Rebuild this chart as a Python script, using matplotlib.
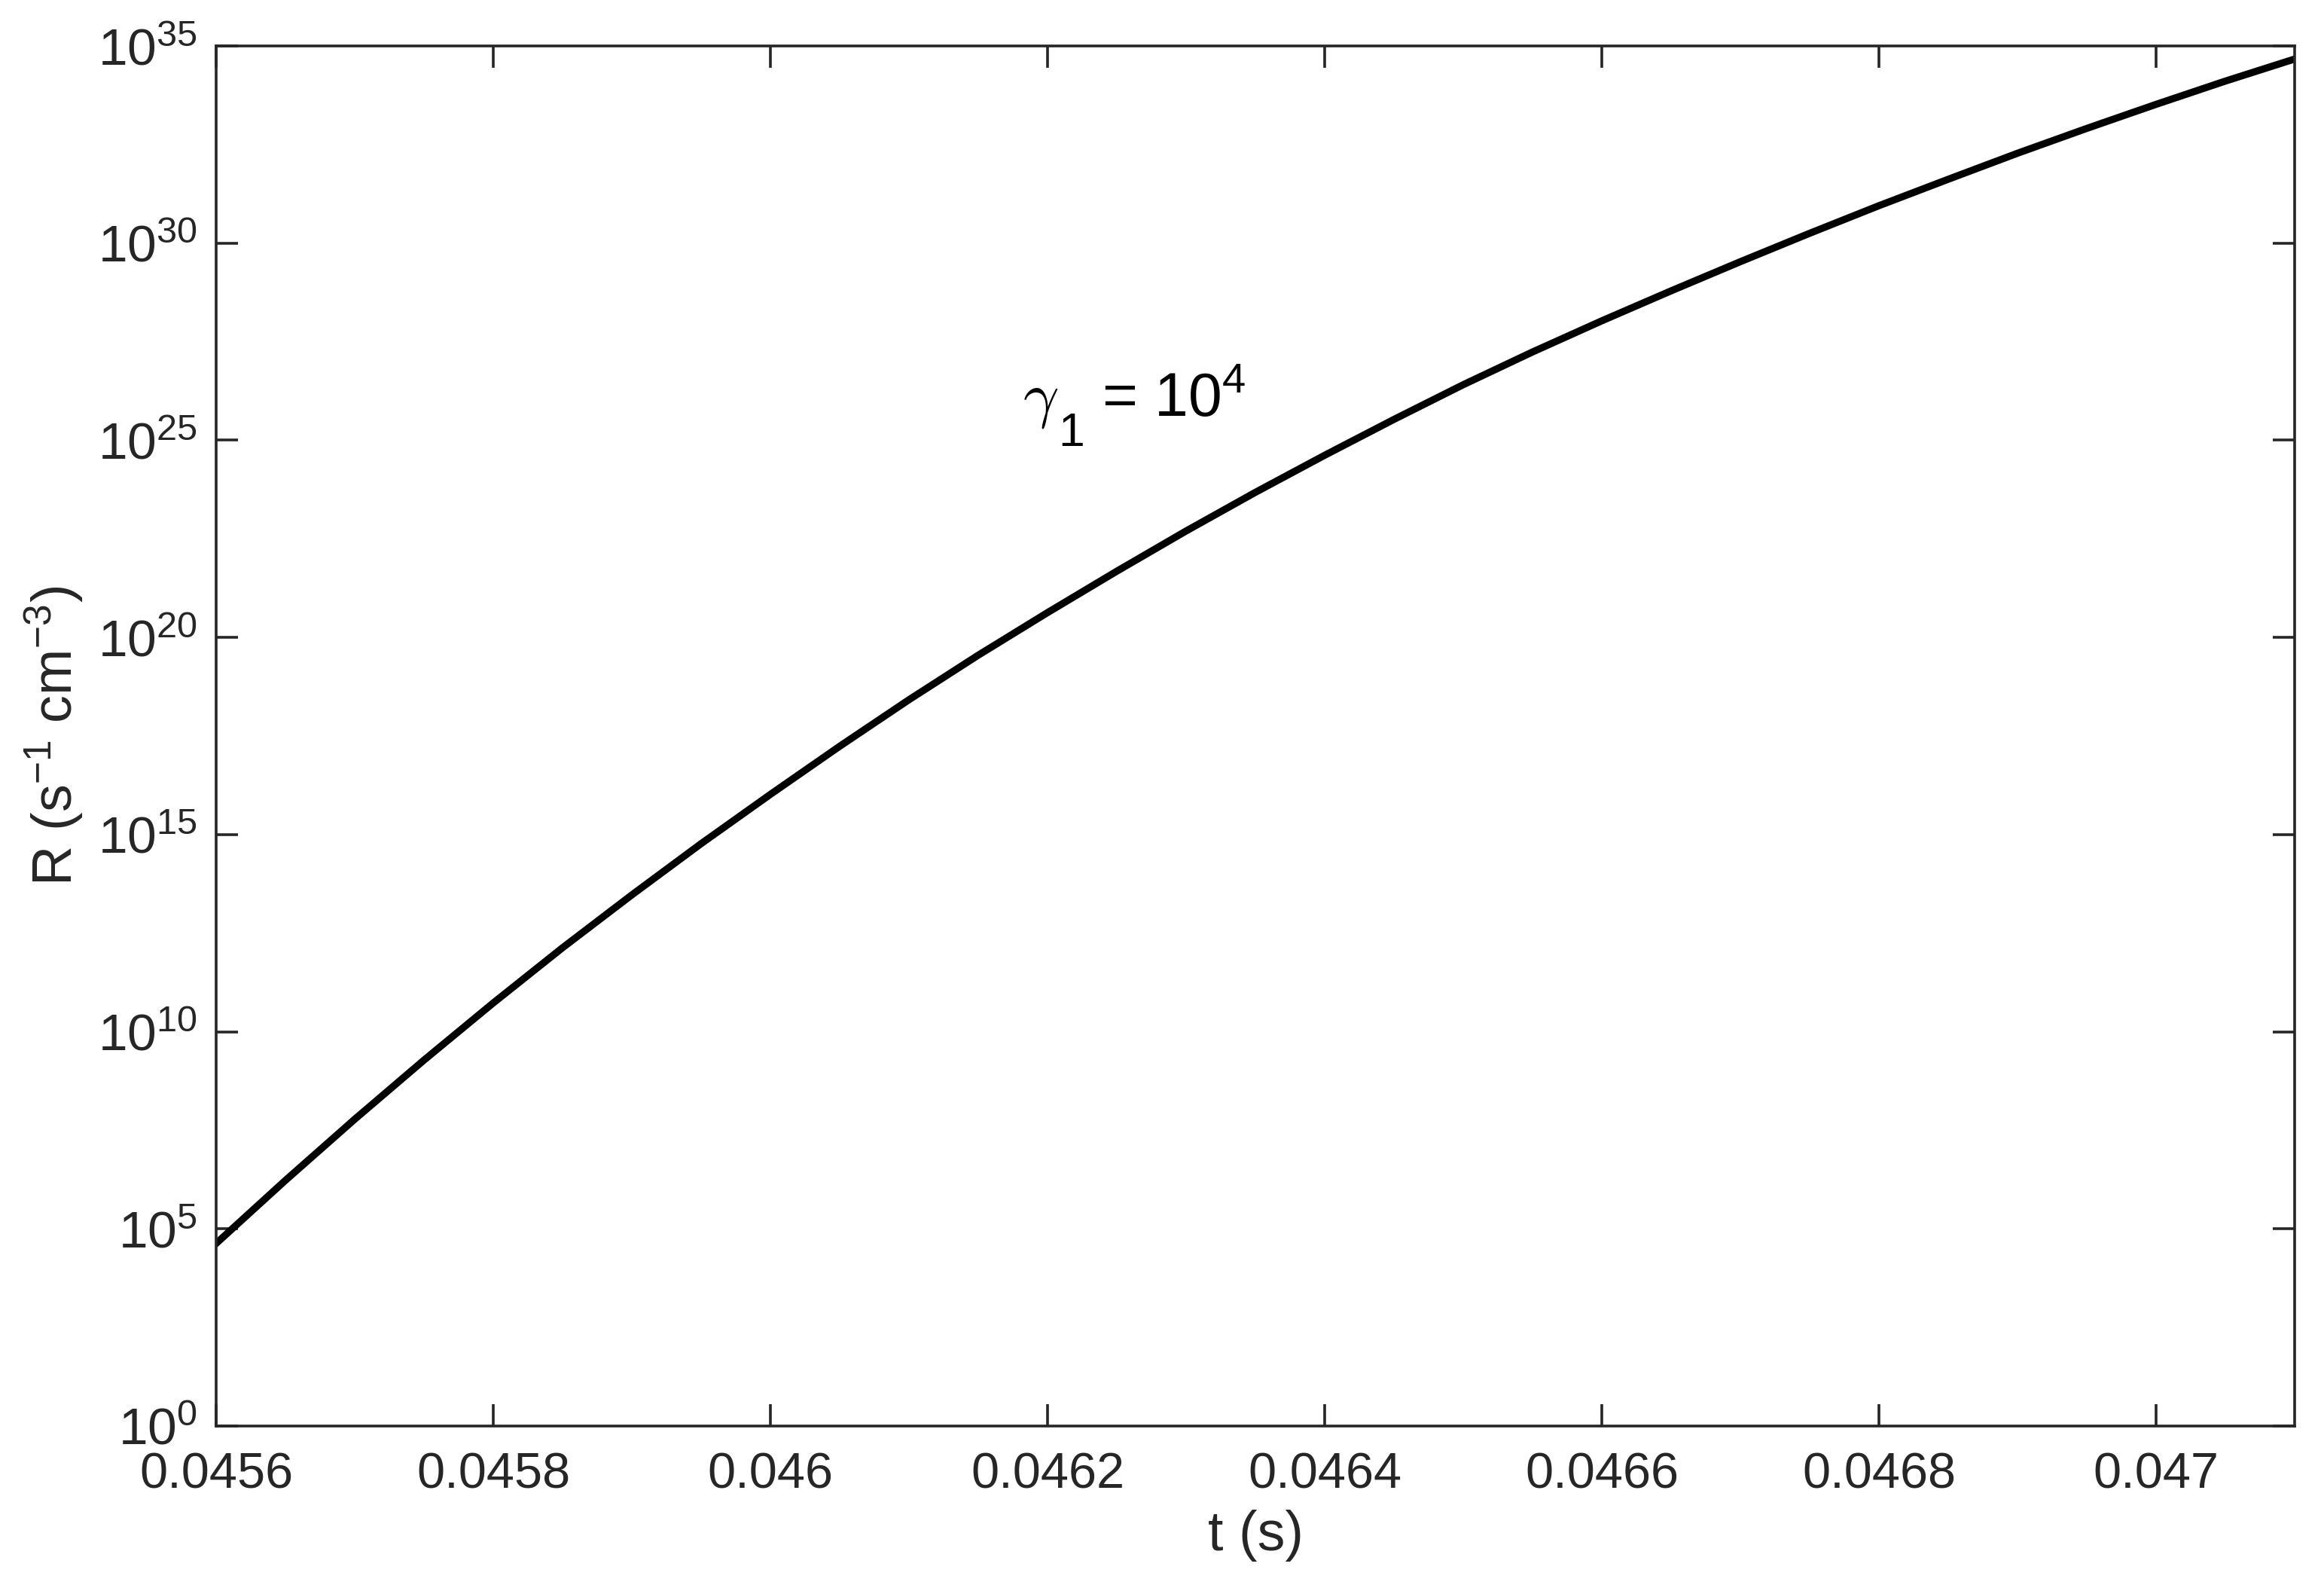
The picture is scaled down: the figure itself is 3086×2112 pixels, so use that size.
import matplotlib
matplotlib.use('Agg')
import matplotlib.pyplot as plt
import numpy as np

# datos (t en s, log10 de R)
tiempo = [0.04560, 0.04565, 0.04570, 0.04575, 0.04580, 0.04585, 0.04590,
          0.04595, 0.04600, 0.04605, 0.04610, 0.04615, 0.04620, 0.04625,
          0.04630, 0.04635, 0.04640, 0.04645, 0.04650, 0.04655, 0.04660,
          0.04665, 0.04670, 0.04675, 0.04680, 0.04685, 0.04690, 0.04695,
          0.04700, 0.04705, 0.04710]
log_R = [4.63, 6.23, 7.78, 9.28, 10.73, 12.13, 13.47,
         14.77, 16.02, 17.24, 18.42, 19.55, 20.63, 21.68,
         22.70, 23.68, 24.62, 25.53, 26.41, 27.24, 28.03,
         28.79, 29.53, 30.25, 30.95, 31.62, 32.28, 32.91,
         33.52, 34.11, 34.67]

xticks = [0.0456, 0.0458, 0.0460, 0.0462, 0.0464, 0.0466, 0.0468, 0.0470]
xtick_labels = ['0.0456', '0.0458', '0.046', '0.0462', '0.0464', '0.0466', '0.0468', '0.047']
ytick_exp = [0, 5, 10, 15, 20, 25, 30, 35]

R = 10.0 ** np.array(log_R)

plt.rcParams['font.family'] = ['Liberation Sans', 'DejaVu Sans']
plt.rcParams['mathtext.fontset'] = 'custom'
plt.rcParams['mathtext.rm'] = 'Liberation Sans'
plt.rcParams['mathtext.it'] = 'Liberation Sans:italic'
plt.rcParams['mathtext.bf'] = 'Liberation Sans:bold'

gris = '#262626'

fig = plt.figure(figsize=(15.43, 10.56), dpi=200)
ax = fig.add_axes([0.0930, 0.1037, 0.8944, 0.8674])

ax.plot(tiempo, R, color='black', linewidth=3.4)

ax.set_yscale('log')
ax.set_xlim(0.0456, 0.0471)
ax.set_ylim(1e0, 1e35)

ax.set_xticks(xticks)
ax.set_xticklabels(xtick_labels, fontsize=24)
ax.set_yticks([10.0 ** e for e in ytick_exp])
ax.set_yticklabels([r'$\mathregular{10^{%d}}$' % e for e in ytick_exp], fontsize=25)
ax.yaxis.set_minor_locator(matplotlib.ticker.NullLocator())

ax.tick_params(axis='both', which='major', direction='in', length=10.5, width=1.3,
               colors=gris, top=True, right=True)
ax.tick_params(axis='x', pad=12.5)
ax.tick_params(axis='y', pad=9)
for s in ax.spines.values():
    s.set_linewidth(1.3)
    s.set_color(gris)

ax.set_xlabel('t (s)', fontsize=26.5, color=gris, labelpad=5)
ax.set_ylabel(r'R (s$^{\mathregular{-1}}$ cm$^{\mathregular{-3}}$)', fontsize=26.5, color=gris, labelpad=6)

# etiqueta gamma_1 = 10^4
t0, r0 = 0.046182, 10 ** 25.62
ax.text(t0, r0, r'$\gamma$', fontsize=30, color='black', va='baseline', ha='left',
        math_fontfamily='cm')
ax.annotate('1', xy=(t0, r0), xytext=(17, -14.4), textcoords='offset points',
            fontsize=22.5, color='black', va='baseline', ha='left')
ax.annotate(r'= 10$^{\mathregular{4}}$', xy=(t0, r0), xytext=(38, 0), textcoords='offset points',
            fontsize=29, color='black', va='baseline', ha='left')

fig.savefig('out.png', dpi=200)
